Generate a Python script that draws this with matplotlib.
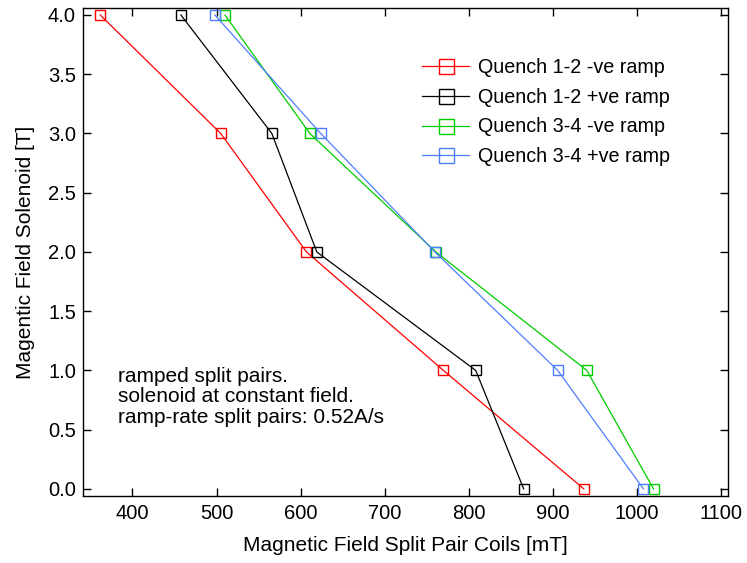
#!/usr/bin/env python3
"""
Quench field plot: solenoid field vs split pair field
"""
import matplotlib
matplotlib.use('Agg')
import matplotlib.pyplot as plt

solenoid_T = [4.0, 3.0, 2.0, 1.0, 0.0]

q12_neg = [361.6, 505, 607, 770, 937]
q12_pos = [457.6, 565.8, 619.3, 808.4, 865.5]
q34_neg = [510, 611, 761, 940.6, 1020]
q34_pos = [498, 624, 759.8, 906, 1008]

labels = ['Quench 1-2 -ve ramp', 'Quench 1-2 +ve ramp',
          'Quench 3-4 -ve ramp', 'Quench 3-4 +ve ramp']
colors = ['#ff0000', '#000000', '#00cc00', '#4f7dff']

xticks = [400, 500, 600, 700, 800, 900, 1000, 1100]
yticks = [0.0, 0.5, 1.0, 1.5, 2.0, 2.5, 3.0, 3.5, 4.0]

plt.rcParams['font.family'] = ['Liberation Sans', 'DejaVu Sans']

fig = plt.figure(figsize=(7.47, 5.63), dpi=100)
ax = fig.add_axes([0.111, 0.119, 0.864, 0.867])

for xs, lab, c in zip([q12_neg, q12_pos, q34_neg, q34_pos], labels, colors):
    ax.plot(xs, solenoid_T, color=c, lw=0.9, marker='s', ms=7.2,
            mfc='none', mec=c, mew=1.0, label=lab)

ax.set_xlim(341, 1109)
ax.set_ylim(-0.06, 4.06)
ax.set_xticks(xticks)
ax.set_yticks(yticks)
ax.set_yticklabels([f'{v:.1f}' for v in yticks])
ax.tick_params(direction='in', length=6, width=1, labelsize=14.5,
               top=True, right=True, pad=6)
ax.tick_params(axis='y', pad=5)
for s in ax.spines.values():
    s.set_linewidth(1)

ax.set_xlabel('Magnetic Field Split Pair Coils [mT]', fontsize=15, labelpad=9)
ax.set_ylabel('Magentic Field Solenoid [T]', fontsize=15, labelpad=9)

ax.legend(loc='upper left', bbox_to_anchor=(0.513, 0.914), frameon=False,
          fontsize=14.2, handlelength=2.4, handletextpad=0.45,
          labelspacing=0.55, markerscale=1.5, borderaxespad=0)

ax.text(0.055, 0.265, 'ramped split pairs.\nsolenoid at constant field.\n'
        'ramp-rate split pairs: 0.52A/s', transform=ax.transAxes,
        fontsize=15, va='top', linespacing=1.1)

fig.savefig('out.png', dpi=100)
